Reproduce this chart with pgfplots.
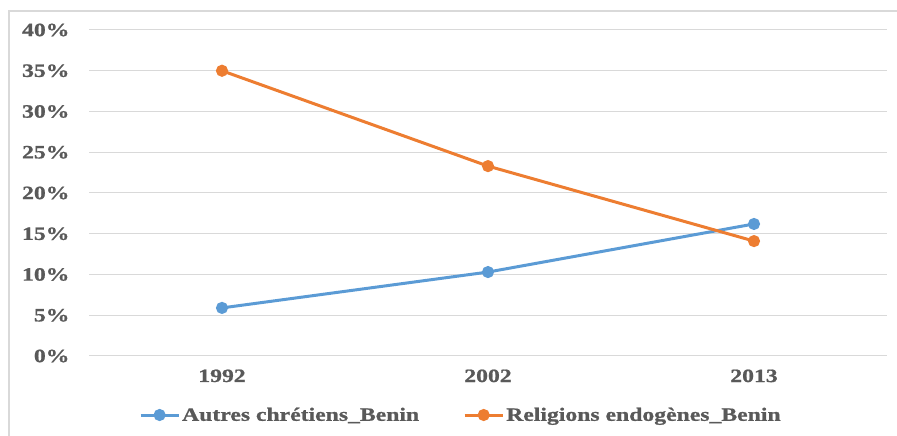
\documentclass[border=0pt]{standalone}
\usepackage{fontspec}
\setmainfont{Liberation Serif}[BoldFont={Liberation Serif Bold}, BoldFeatures={FakeStretch=1.26, FakeBold=1}, FakeStretch=1.26]
\usepackage{pgfplots}
\pgfplotsset{compat=1.18}
\definecolor{cblue}{HTML}{5B9BD5}
\definecolor{corange}{HTML}{ED7D31}
\definecolor{ctext}{HTML}{595959}
\definecolor{cgrid}{HTML}{D9D9D9}
\begin{document}
\begin{tikzpicture}[x=1pt,y=1pt]
\path[use as bounding box] (0,0) rectangle (897,436);
\clip (0,0) rectangle (897,436);
\draw[cgrid, line width=1.5pt] (9,-10) -- (9,425) -- (910,425);
\begin{axis}[
 at={(89pt,80pt)}, anchor=south west, scale only axis, width=798pt, height=326pt,
 xmin=-0.5, xmax=2.5, ymin=0, ymax=40,
 xtick={0,1,2}, xticklabels={1992,2002,2013},
 ytick={0,5,...,40},
 yticklabel={\pgfmathprintnumber{\tick}\%},
 /pgf/number format/assume math mode=true,
 ymajorgrids, grid style={cgrid, line width=1pt},
 axis line style={draw=none},
 major tick length=0pt,
 tick label style={font=\bfseries\fontsize{18.8}{20}\selectfont, text=ctext},
 yticklabel style={xshift=-16pt},
 xticklabel style={yshift=-10pt},
 legend columns=2,
 legend style={at={(0.466,-0.181)}, anchor=center, draw=none, fill=none,
   font=\bfseries\fontsize{18.8}{20}\selectfont, text=ctext,
   /tikz/every even column/.append style={column sep=42pt}},
 legend image code/.code={\draw[#1, mark repeat=2, mark phase=2] plot coordinates {(0pt,0pt) (19pt,0pt) (38pt,0pt)};},
]
\addplot[cblue, line width=3pt, mark=*, mark size=4.5pt, mark options={solid, fill=cblue}] coordinates {(0,5.9) (1,10.3) (2,16.2)};
\addlegendentry{Autres chrétiens\_Benin}
\addplot[corange, line width=3pt, mark=*, mark size=4.5pt, mark options={solid, fill=corange}] coordinates {(0,35.0) (1,23.3) (2,14.1)};
\addlegendentry{Religions endogènes\_Benin}
\end{axis}
\end{tikzpicture}
\end{document}
